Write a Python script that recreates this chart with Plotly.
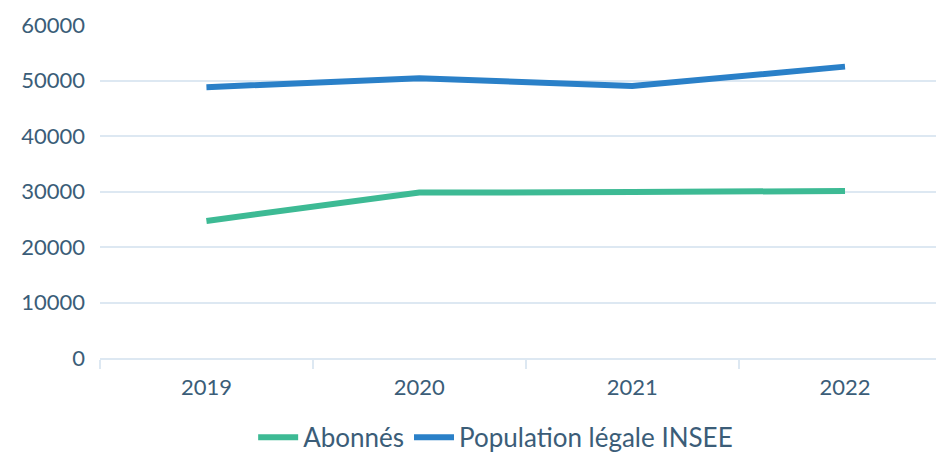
import plotly.graph_objects as go

years = ["2019", "2020", "2021", "2022"]
abonnes = [24700, 29800, 29900, 30100]
population = [48800, 50400, 49000, 52500]
y_ticks = [0, 10000, 20000, 30000, 40000, 50000, 60000]
y_tick_labels = ["0", "10000", "20000", "30000", "40000", "50000", "60000"]

FONT = "Lato"
TXT = "#3b5d78"
GRID = "#dde8f2"

fig = go.Figure()
fig.add_trace(go.Scatter(x=years, y=abonnes, mode="lines", name="Abonnés",
                         line=dict(color="#3dba94", width=6)))
fig.add_trace(go.Scatter(x=years, y=population, mode="lines", name="Population légale INSEE",
                         line=dict(color="#2a80c8", width=6)))

fig.update_layout(
    width=936, height=444,
    margin=dict(l=92, r=0, t=17, b=94, autoexpand=False),
    paper_bgcolor="white", plot_bgcolor="white",
    font=dict(family=FONT, size=22, color=TXT),
    showlegend=True,
    legend=dict(orientation="h", xref="container", x=0.521, xanchor="center",
                yref="container", y=0.033, yanchor="middle",
                font=dict(size=26, color=TXT), itemwidth=40, tracegroupgap=0),
    xaxis=dict(type="category", range=[-0.5, 3.465], showgrid=False,
               tickson="boundaries", ticks="outside", ticklen=9, tickcolor=GRID,
               tickwidth=2, showline=True, linecolor=GRID, linewidth=2, zeroline=False,
               tickfont=dict(size=22, color=TXT), ticklabelstandoff=9),
    yaxis=dict(range=[0, 60000], tickvals=y_ticks, ticktext=y_tick_labels,
               showgrid=True, gridcolor=GRID,
               gridwidth=2, zeroline=False, showline=False, ticks="",
               tickfont=dict(size=22, color=TXT), ticklabelstandoff=14),
)

fig.write_html("out.html")
